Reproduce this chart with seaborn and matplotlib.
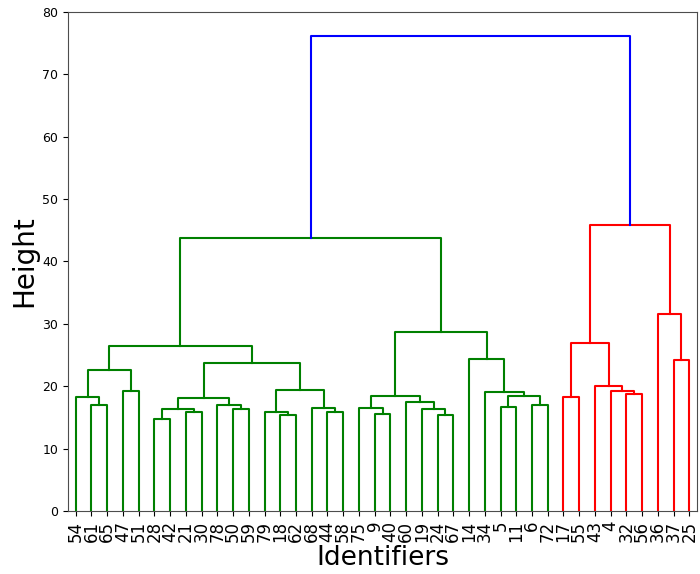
import numpy as np
import pandas as pd
import matplotlib
matplotlib.use("Agg")
import matplotlib.pyplot as plt
import seaborn as sns

# leaves in display order
leaf_labels = ["54", "61", "65", "47", "51", "28", "42", "21", "30", "78",
               "50", "59", "79", "18", "62", "68", "44", "58", "75", "9",
               "40", "60", "19", "24", "67", "14", "34", "5", "11", "6",
               "72", "17", "55", "43", "4", "32", "56", "36", "37", "25"]

# merges, linkage style: node id = n_leaves + row
merge_left = [1, 0, 3, 41, 5, 7, 44, 10, 9, 46, 13, 12, 16, 15, 51, 49, 43,
              19, 18, 23, 22, 21, 58, 27, 29, 63, 26, 25, 62, 56,
              31, 35, 34, 33, 70, 38, 37, 74, 69]
merge_right = [2, 40, 4, 42, 6, 8, 45, 11, 47, 48, 14, 50, 17, 52, 53, 54, 55,
               20, 57, 24, 59, 60, 61, 28, 30, 64, 65, 66, 67, 68,
               32, 36, 71, 72, 73, 39, 75, 76, 77]
merge_height = [17.0, 18.3, 19.2, 22.6, 14.7, 15.8, 16.4, 16.3, 17.0, 18.1,
                15.3, 15.8, 15.9, 16.5, 19.4, 23.7, 26.5,
                15.6, 16.5, 15.4, 16.35, 17.4, 18.4, 16.7, 16.9, 18.4, 19.0,
                24.3, 28.7, 43.8,
                18.3, 18.7, 19.2, 20.0, 27.0, 24.2, 31.5, 45.9, 76.2]

cluster_colors = ["g", "r"]
above_color = "b"
color_threshold = 0.7 * max(merge_height)

n = len(leaf_labels)
pos_x = {i: 5 + 10 * i for i in range(n)}
pos_y = {i: 0.0 for i in range(n)}
for k in range(len(merge_height)):
    node = n + k
    pos_x[node] = (pos_x[merge_left[k]] + pos_x[merge_right[k]]) / 2
    pos_y[node] = merge_height[k]

# color each link: subtrees below the threshold get their own color
link_color = {}
next_color = [0]


def paint(node, col):
    if node < n:
        return
    k = node - n
    if col is None and merge_height[k] < color_threshold:
        col = cluster_colors[next_color[0] % len(cluster_colors)]
        next_color[0] += 1
    link_color[k] = col if col is not None else above_color
    paint(merge_left[k], col)
    paint(merge_right[k], col)


paint(n + len(merge_height) - 1, None)

rows = []
for k in range(len(merge_height)):
    a, b = merge_left[k], merge_right[k]
    h = merge_height[k]
    pts = [(pos_x[a], pos_y[a]), (pos_x[a], h), (pos_x[b], h), (pos_x[b], pos_y[b])]
    for j, (x, y) in enumerate(pts):
        rows.append({"link": k, "order": j, "x": x, "y": y, "color": link_color[k]})
df = pd.DataFrame(rows)

fig, ax = plt.subplots(figsize=(7, 5.74), dpi=100)
fig.subplots_adjust(left=0.097, right=0.996, top=0.979, bottom=0.110)

sns.lineplot(data=df, x="x", y="y", units="link", hue="color",
             palette={"g": "g", "r": "r", "b": "b"}, estimator=None,
             sort=False, linewidth=1.5, legend=False, ax=ax)

ax.set_xlim(0, 10 * n)
ax.set_ylim(0, 80)
ax.set_xticks([pos_x[i] for i in range(n)])
ax.set_xticklabels(leaf_labels, rotation=90, fontsize=12)
ax.tick_params(axis="y", labelsize=9)
for s in ax.spines.values():
    s.set_color("0.3")
ax.set_xlabel("Identifiers", fontsize=19, labelpad=2)
ax.set_ylabel("Height", fontsize=20, labelpad=3)

fig.savefig("out.png", dpi=100)
